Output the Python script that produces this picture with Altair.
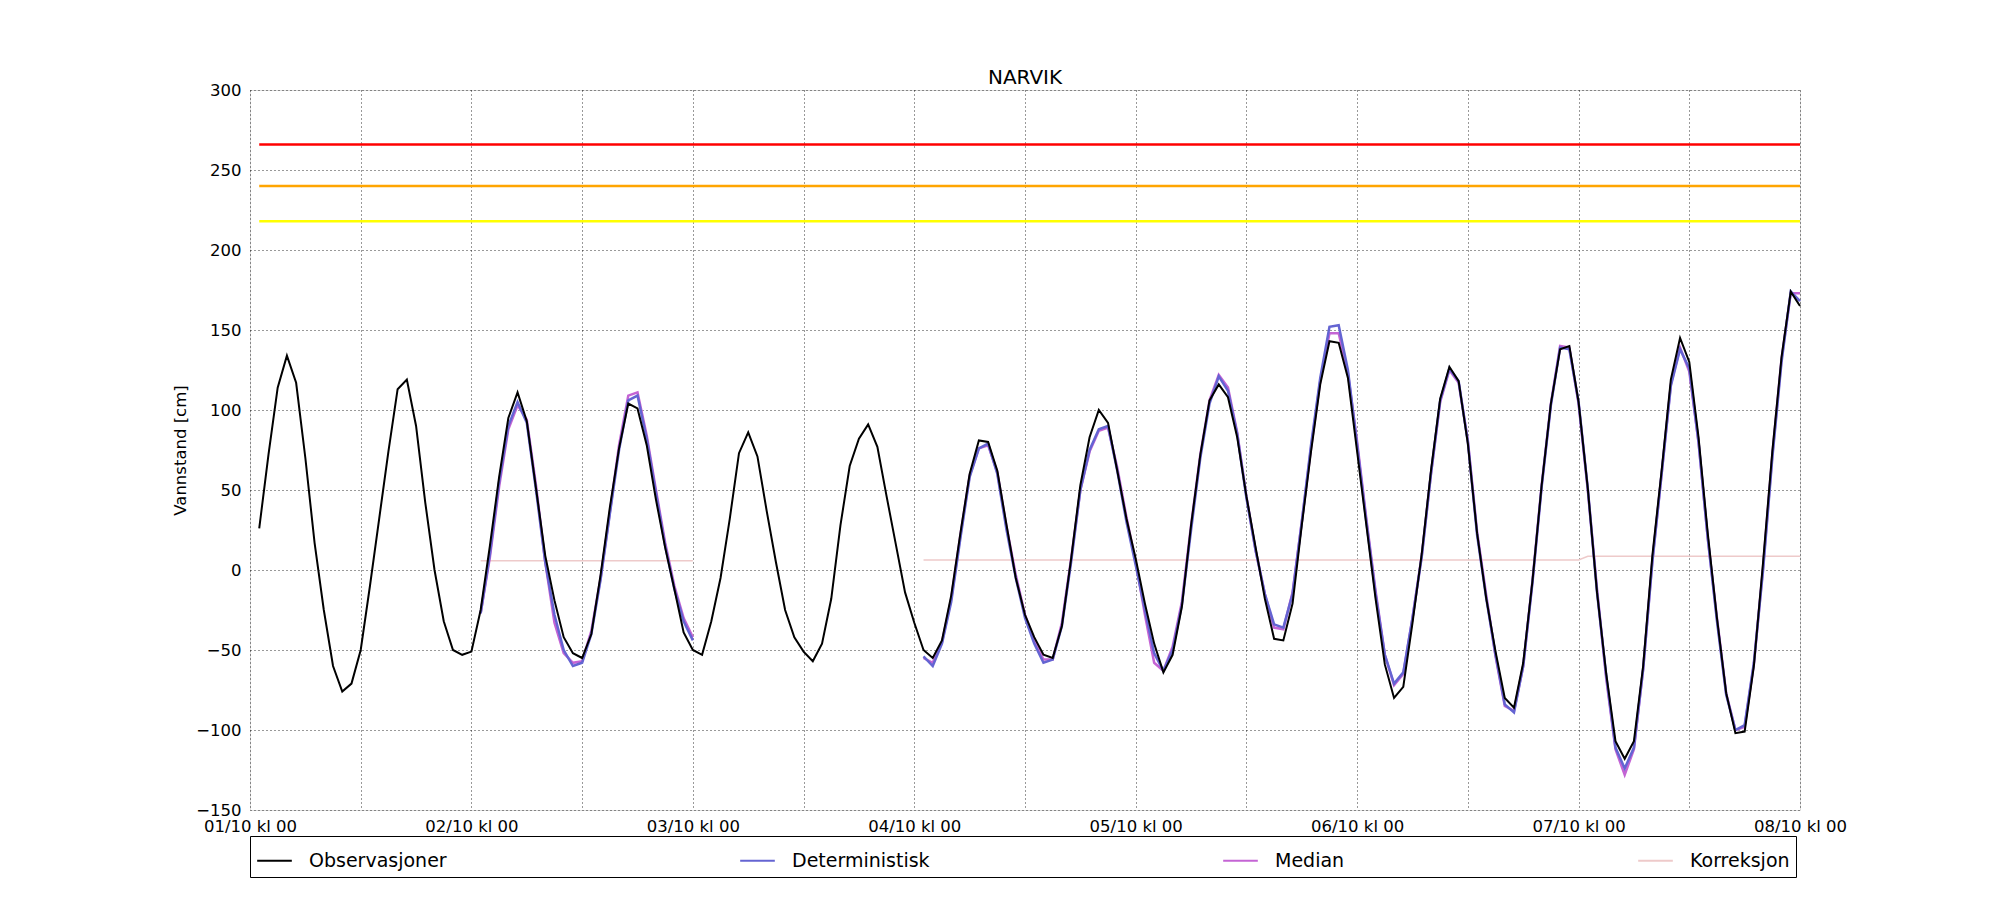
import altair as alt
import pandas as pd

# ---------------- data (hours after 01/10 kl 00) ----------------
series_names = ["Observasjoner", "Deterministisk", "Median", "Korreksjon"]
series_colors = ["#000000", "#6464d2", "#c464d4", "#eecaca"]

obs_start = 1
obs_values = [
    26, 72, 114, 134, 117, 70, 17, -25, -60, -76,
    -71, -50, -10, 32, 74, 113, 119, 90, 42, 0,
    -32, -50, -53, -51, -25, 15, 58, 95, 111, 93,
    51, 9, -19, -42, -52, -55, -40, -3, 39, 76,
    104, 101, 78, 44, 14, -12, -39, -50, -53, -32,
    -5, 32, 73, 86, 71, 37, 5, -25, -42, -51,
    -57, -46, -18, 28, 65, 82, 91, 77, 46, 16,
    -14, -33, -50, -55, -44, -16, 23, 60, 81, 80,
    62, 28, -5, -28, -42, -53, -55, -35, 7, 53,
    83, 100, 92, 62, 32, 7, -21, -46, -64, -53,
    -23, 28, 72, 106, 116, 108, 83, 46, 14, -18,
    -43, -44, -21, 28, 74, 116, 143, 142, 120, 74,
    28, -18, -59, -80, -73, -33, 10, 62, 107, 127,
    118, 79, 23, -18, -51, -80, -86, -58, -7, 53,
    104, 138, 140, 105, 51, -14, -65, -107, -118, -107,
    -60, 9, 62, 119, 145, 130, 83, 23, -30, -77,
    -102, -101, -60, 5, 74, 133, 174, 165,
]

det1_start = 25
det1_values = [-27, 10, 55, 90, 105, 92, 50, 5, -28, -50, -60, -58,
               -40, -6, 35, 75, 106, 109, 82, 48, 15, -12, -32, -44]
med1_values = [-27, 8, 52, 88, 103, 94, 53, 5, -33, -52, -58, -57,
               -38, -5, 36, 78, 109, 111, 84, 50, 17, -10, -30, -42]

det2_start = 73
det2_values = [
    -54, -60, -46, -20, 20, 58, 76, 79, 60, 25,
    -5, -30, -46, -58, -56, -35, 5, 50, 75, 88,
    90, 62, 30, 3, -25, -52, -63, -50, -22, 25,
    70, 104, 121, 112, 85, 45, 12, -15, -34, -36,
    -15, 30, 78, 120, 152, 153, 125, 78, 30, -15,
    -53, -71, -64, -30, 8, 60, 106, 126, 118, 80,
    22, -18, -53, -84, -89, -60, -8, 52, 103, 139,
    138, 105, 51, -14, -66, -111, -124, -111, -62, 5,
    60, 115, 138, 126, 80, 20, -32, -78, -100, -97,
    -58, 0, 70, 130, 174, 168,
]
med2_values = [
    -55, -58, -45, -18, 22, 59, 76, 78, 61, 27,
    -3, -28, -44, -56, -56, -33, 7, 50, 74, 87,
    89, 64, 33, 5, -28, -58, -63, -48, -20, 28,
    72, 106, 122, 114, 86, 46, 12, -15, -36, -37,
    -14, 30, 76, 118, 148, 148, 123, 80, 32, -13,
    -53, -72, -65, -30, 9, 60, 105, 125, 117, 81,
    24, -16, -54, -85, -88, -60, -7, 53, 104, 140,
    139, 104, 50, -12, -68, -112, -128, -112, -62, 6,
    60, 116, 139, 124, 80, 20, -30, -77, -100, -98,
    -59, 2, 72, 132, 173, 173,
]

corr_hours = [25, 48, 73, 144, 145, 168]
corr_values = [5.8, 5.8, 6.3, 6.3, 8.6, 8.6]
corr_seg = [1, 1, 2, 2, 2, 2]

threshold_values = [266, 240, 218]
threshold_colors = ["#ff0000", "#ffa500", "#ffff00"]
threshold_start = 1
threshold_end = 168

x_tick_hours = list(range(0, 169, 12))
y_tick_values = list(range(-150, 301, 50))

# ---------------- tables ----------------
def seg_df(start, values, name, seg):
    return pd.DataFrame({
        "hour": list(range(start, start + len(values))),
        "value": values,
        "series": name,
        "seg": seg,
    })

obs_df = seg_df(obs_start, obs_values, "Observasjoner", 0)
det_df = pd.concat([seg_df(det1_start, det1_values, "Deterministisk", 1),
                    seg_df(det2_start, det2_values, "Deterministisk", 2)])
med_df = pd.concat([seg_df(det1_start, med1_values, "Median", 1),
                    seg_df(det2_start, med2_values, "Median", 2)])
corr_df = pd.DataFrame({"hour": corr_hours, "value": corr_values,
                        "series": "Korreksjon", "seg": corr_seg})
thr_df = pd.DataFrame({"value": threshold_values, "color": threshold_colors,
                       "start": threshold_start, "end": threshold_end})

FONT = "DejaVu Sans"

xscale = alt.Scale(domain=[0, 168], nice=False, zero=False)
yscale = alt.Scale(domain=[-150, 300], nice=False, zero=False)

xaxis = alt.Axis(
    values=x_tick_hours,
    labelExpr="datum.value % 24 == 0 ? '0' + (datum.value / 24 + 1) + '/10 kl 00' : ''",
    title=None, grid=True, gridColor="#000000", gridOpacity=0.8,
    gridDash=[1, 3], gridWidth=1, ticks=False, domain=False,
    labelFont=FONT, labelFontSize=16.5, labelColor="#000000",
    labelPadding=8, labelOverlap=False, labelFlush=False,
)
yaxis = alt.Axis(
    values=y_tick_values,
    labelExpr="replace(datum.label, '-', '\u2212')",
    title="Vannstand [cm]", titleFont=FONT, titleFontSize=16.5,
    titleFontWeight="normal", titleColor="#000000", titlePadding=7,
    grid=True, gridColor="#000000", gridOpacity=0.8, gridDash=[1, 3],
    gridWidth=1, ticks=False, domain=False,
    labelFont=FONT, labelFontSize=16.5, labelColor="#000000", labelPadding=9,
)

legend = alt.Legend(
    title=None, orient="none", legendX=0, legendY=746, direction="horizontal",
    columns=4, columnPadding=289, symbolType="stroke", symbolSize=1200,
    symbolStrokeWidth=2, labelFont=FONT, labelFontSize=19, labelColor="#000000",
    labelOffset=16, strokeColor="#000000", fillColor="#ffffff", padding=6,
    cornerRadius=0,
)
color = alt.Color("series:N",
                  scale=alt.Scale(domain=series_names, range=series_colors),
                  legend=legend)

thr = alt.Chart(thr_df).mark_rule(strokeWidth=2.5).encode(
    x=alt.X("start:Q", scale=xscale, axis=xaxis),
    x2="end:Q",
    y=alt.Y("value:Q", scale=yscale, axis=yaxis),
    color=alt.Color("color:N", scale=None, legend=None),
)

def line_layer(df, width):
    return alt.Chart(df).mark_line(strokeWidth=width, strokeJoin="miter").encode(
        x=alt.X("hour:Q", scale=xscale, axis=xaxis),
        y=alt.Y("value:Q", scale=yscale, axis=yaxis),
        color=color,
        detail="seg:N",
        order="hour:Q",
    )

lines = alt.layer(
    line_layer(corr_df, 1.5),
    line_layer(med_df, 2.5),
    line_layer(det_df, 2.5),
    line_layer(obs_df, 2.0),
)

chart = alt.layer(thr, lines).resolve_scale(color="independent").properties(
    width=1550, height=720,
    autosize=alt.AutoSizeParams(type="none"),
    padding={"left": 242, "top": 82, "right": 150, "bottom": 80},
    title=alt.TitleParams("NARVIK", font=FONT, fontSize=20, fontWeight="normal",
                          color="#000000", offset=-6, anchor="middle"),
).configure_view(stroke="#000000", strokeWidth=1.2).configure(background="#ffffff")

chart.save("out.html", embed_options={"renderer": "svg", "actions": False})
